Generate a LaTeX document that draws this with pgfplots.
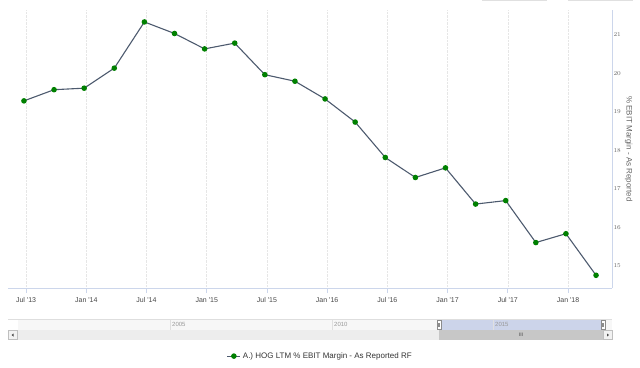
\documentclass[border=0pt]{standalone}
\usepackage{fontspec}
\setmainfont{Liberation Sans}
\usepackage{pgfplots}
\pgfplotsset{compat=1.18}
\definecolor{axisblue}{HTML}{CCD6EB}
\definecolor{linecol}{HTML}{4D5A6E}
\definecolor{mk}{HTML}{008000}
\definecolor{gridc}{HTML}{E6E6E6}
\definecolor{navsel}{HTML}{CCD4EA}
\begin{document}
\begin{tikzpicture}
\useasboundingbox (0pt,0pt) rectangle (640pt,367pt);
% top buttons (faint)
\fill[black!12] (482pt,366pt) rectangle (547pt,367pt);
\fill[black!12] (568pt,366pt) rectangle (633pt,367pt);
\begin{axis}[
  at={(8pt,79pt)}, anchor=south west, scale only axis,
  width=604pt, height=278pt,
  xmin=-0.53, xmax=19.53, ymin=14.43, ymax=21.65,
  axis x line*=bottom, axis y line*=right,
  axis line style={axisblue, line width=0.8pt, -},
  xtick={0.07,2.07,4.07,6.07,8.07,10.07,12.07,14.07,16.07,18.07},
  xticklabels={Jul \textquotesingle13, Jan \textquotesingle14, Jul \textquotesingle14, Jan \textquotesingle15, Jul \textquotesingle15, Jan \textquotesingle16, Jul \textquotesingle16, Jan \textquotesingle17, Jul \textquotesingle17, Jan \textquotesingle18},
  ytick={15,16,17,18,19,20,21},
  x tick style={axisblue, line width=0.8pt},
  y tick style={draw=none},
  tick align=outside,
  major tick length=5pt,
  xmajorgrids,
  major x grid style={gridc, densely dotted, line width=0.5pt},
  xticklabel style={font=\fontsize{7}{8}\selectfont, text=black!72, yshift=-1pt},
  yticklabel style={font=\fontsize{6.5}{7}\selectfont, text=black!60, xshift=-7pt},
  ylabel={\% EBIT Margin - As Reported},
  ylabel style={at={(axis description cs:1.0275,0.5)}, rotate=180, anchor=center, font=\fontsize{8}{9}\selectfont, text=black!60},
  legend style={at={(axis description cs:0.517,-0.245)}, anchor=center, draw=none, fill=none, font=\fontsize{8}{9}\selectfont, text=black!80},
  legend image code/.code={\draw[mark repeat=2,mark phase=2,#1] plot coordinates {(0pt,0pt) (6.5pt,0pt) (13pt,0pt)};},
  clip=false,
]
\addplot[linecol, line width=1.1pt, mark=*, mark size=2.2pt, mark options={fill=mk, draw=mk}] coordinates {
(0,19.29) (1,19.58) (2,19.62) (3,20.14) (4,21.34) (5,21.04) (6,20.64) (7,20.79)
(8,19.97) (9,19.80) (10,19.34) (11,18.74) (12,17.82) (13,17.30) (14,17.55)
(15,16.61) (16,16.70) (17,15.61) (18,15.84) (19,14.76)};
\addlegendentry{A.) HOG LTM \% EBIT Margin - As Reported RF}
\end{axis}
% navigator
\begin{scope}[x=1pt,y=1pt]
\draw[black!13, line width=1.2pt] (8,47.5) -- (612,47.5);
\fill[black!3] (18,37) rectangle (612,47);
\fill[navsel] (439,37) rectangle (603,47);
\foreach \xx/\lab in {170/2005, 332/2010, 493/2015} {
  \draw[black!12, line width=0.6pt] (\xx,37) -- (\xx,47);
  \node[anchor=west, inner sep=0pt, font=\fontsize{6}{7}\selectfont, text=black!40] at (\xx+2,42.5) {\lab};
}
\fill[black!7] (8,27) rectangle (612,37);
\fill[black!22] (439,27) rectangle (603,37);
\node[font=\fontsize{5}{6}\selectfont, text=black!75, inner sep=0pt] at (521,32) {III};
\draw[black!25, fill=black!5, line width=0.5pt] (8.5,27.5) rectangle (17,36.5);
\fill[black!70] (11.5,32) -- (13.5,33.5) -- (13.5,30.5) -- cycle;
\draw[black!25, fill=black!5, line width=0.5pt] (603.5,27.5) rectangle (612,36.5);
\fill[black!70] (609,32) -- (607,33.5) -- (607,30.5) -- cycle;
\foreach \hx in {439,603} {
  \draw[black!45, fill=white, line width=0.5pt] (\hx-2,37.7) rectangle (\hx+2,46.3);
  \draw[black!45, line width=0.4pt] (\hx-0.6,40) -- (\hx-0.6,44) (\hx+0.6,40) -- (\hx+0.6,44);
}
\end{scope}
\end{tikzpicture}
\end{document}
